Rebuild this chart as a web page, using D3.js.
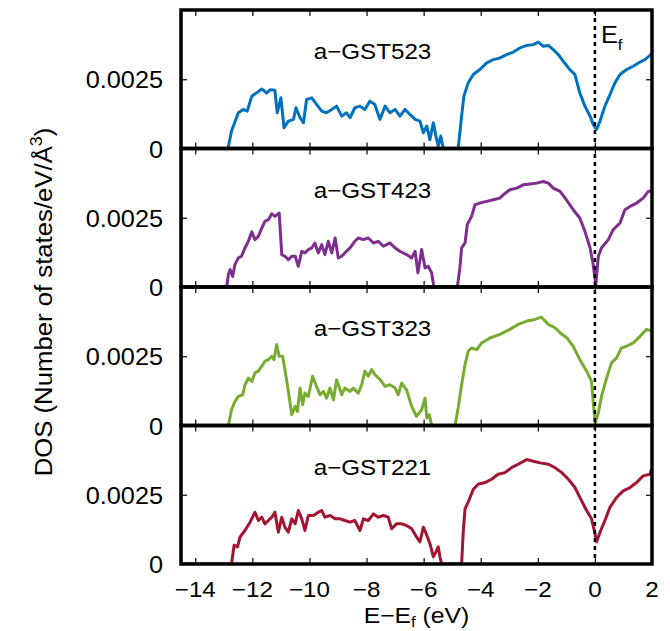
<!DOCTYPE html>
<html><head><meta charset="utf-8">
<script src="https://cdn.jsdelivr.net/npm/d3@7"></script>
<style>body{margin:0;background:#fff}svg{display:block}text{font-family:"Liberation Sans",Arial,sans-serif;fill:#000}</style>
</head><body><svg id="c" width="670" height="631"></svg>
<script>
// ---- data (DOS in units of 1e-3 states/eV/Å^3) ----
const panelNames = ["a\u2212GST523","a\u2212GST423","a\u2212GST323","a\u2212GST221"];
const panelColors = ["#0072bd","#7e2f8e","#77ac30","#a2142f"];
const xTicks = [-14,-12,-10,-8,-6,-4,-2,0,2];
const xTickLabels = ["\u221214","\u221212","\u221210","\u22128","\u22126","\u22124","\u22122","0","2"];
const yTicks = [0, 2.5];
const yTickLabels = ["0","0.0025"];

const dos523 = [[-14.5,0],[-12.85,0],[-12.73,0.63],[-12.49,1.29],[-12.32,1.41],[-12.18,1.35],[-12.02,1.89],[-11.85,2.01],[-11.67,2.15],[-11.5,2.0],[-11.38,2.12],[-11.21,2.1],[-11.13,1.29],[-11.0,1.83],[-10.89,0.75],[-10.74,0.99],[-10.56,1.05],[-10.47,1.47],[-10.33,1.11],[-10.21,0.93],[-10.1,1.77],[-9.92,1.83],[-9.75,1.59],[-9.57,1.35],[-9.4,1.29],[-9.22,1.41],[-9.05,1.53],[-8.87,1.17],[-8.7,1.29],[-8.58,1.11],[-8.41,1.47],[-8.23,1.53],[-8.06,1.41],[-7.88,1.71],[-7.71,1.59],[-7.53,1.05],[-7.35,1.53],[-7.18,1.29],[-7.0,1.41],[-6.83,1.17],[-6.65,1.41],[-6.48,1.23],[-6.3,1.05],[-6.13,0.99],[-6.01,0.57],[-5.89,0.81],[-5.78,0.32],[-5.66,0.93],[-5.57,0.45],[-5.49,0.08],[-5.4,0.45],[-5.31,0],[-4.79,0],[-4.67,1.17],[-4.59,1.89],[-4.44,2.37],[-4.26,2.67],[-4.03,2.85],[-3.79,3.09],[-3.56,3.21],[-3.33,3.27],[-3.09,3.39],[-2.86,3.48],[-2.63,3.63],[-2.39,3.72],[-2.16,3.75],[-1.98,3.84],[-1.81,3.69],[-1.63,3.72],[-1.46,3.57],[-1.28,3.39],[-1.11,3.15],[-0.88,2.85],[-0.7,2.67],[-0.53,2.01],[-0.35,1.53],[-0.17,1.17],[-0.06,0.87],[0.06,0.69],[0.18,0.99],[0.35,1.53],[0.53,1.95],[0.7,2.37],[0.88,2.67],[1.11,2.85],[1.34,2.97],[1.58,3.12],[1.75,3.21],[1.93,3.36],[2.0,3.43]];
const dos423 = [[-14.5,0],[-12.9,0],[-12.84,0.45],[-12.78,0.63],[-12.69,0.38],[-12.61,0.81],[-12.49,1.05],[-12.38,1.11],[-12.26,1.41],[-12.14,1.65],[-12.02,1.99],[-11.91,1.71],[-11.79,1.83],[-11.67,2.13],[-11.56,2.37],[-11.44,2.43],[-11.32,2.64],[-11.21,2.55],[-11.06,2.67],[-10.97,1.17],[-10.86,1.11],[-10.74,0.99],[-10.62,1.11],[-10.5,1.11],[-10.39,0.75],[-10.27,1.29],[-10.16,1.23],[-10.04,1.35],[-9.92,1.41],[-9.81,1.59],[-9.69,1.23],[-9.57,1.53],[-9.46,1.17],[-9.34,1.65],[-9.22,1.23],[-9.1,1.77],[-8.99,1.05],[-8.87,1.11],[-8.76,1.23],[-8.58,1.41],[-8.41,1.65],[-8.29,1.77],[-8.11,1.71],[-7.94,1.77],[-7.76,1.59],[-7.59,1.65],[-7.41,1.47],[-7.18,1.59],[-7.0,1.41],[-6.83,1.29],[-6.6,1.17],[-6.42,1.05],[-6.3,1.29],[-6.2,0.51],[-6.07,1.35],[-5.95,0.69],[-5.84,0.75],[-5.72,0.51],[-5.64,0],[-4.82,0],[-4.73,0.69],[-4.67,1.41],[-4.55,1.59],[-4.47,2.25],[-4.32,2.55],[-4.2,2.97],[-4.03,3.03],[-3.79,3.09],[-3.56,3.15],[-3.33,3.21],[-3.21,3.33],[-2.98,3.51],[-2.74,3.57],[-2.51,3.69],[-2.28,3.72],[-2.04,3.75],[-1.81,3.81],[-1.63,3.75],[-1.46,3.57],[-1.22,3.45],[-1.0,3.15],[-0.76,2.79],[-0.53,2.49],[-0.35,2.01],[-0.17,1.41],[-0.06,0.81],[0.03,0.08],[0.12,1.11],[0.23,1.41],[0.47,1.71],[0.64,2.07],[0.88,2.31],[1.05,2.79],[1.23,2.91],[1.46,3.03],[1.69,3.21],[1.87,3.45],[2.0,3.48]];
const dos323 = [[-14.5,0],[-12.84,0],[-12.73,0.57],[-12.61,0.87],[-12.49,1.05],[-12.34,1.11],[-12.26,1.47],[-12.14,1.71],[-12.02,1.59],[-11.91,1.9],[-11.79,1.96],[-11.67,2.14],[-11.56,2.32],[-11.44,2.38],[-11.32,2.5],[-11.24,2.38],[-11.15,2.92],[-11.06,2.5],[-10.94,2.5],[-10.86,2.02],[-10.74,1.23],[-10.62,0.39],[-10.5,0.69],[-10.42,0.51],[-10.33,1.35],[-10.24,0.75],[-10.16,1.17],[-10.04,1.05],[-9.89,1.78],[-9.75,1.41],[-9.63,1.11],[-9.51,1.23],[-9.4,0.99],[-9.28,1.35],[-9.16,0.93],[-9.05,1.65],[-8.87,1.11],[-8.76,1.35],[-8.58,1.23],[-8.46,1.35],[-8.29,1.17],[-8.17,1.47],[-8.06,1.96],[-7.94,1.78],[-7.82,2.02],[-7.71,1.84],[-7.53,1.66],[-7.35,1.41],[-7.18,1.47],[-7.0,1.35],[-6.89,1.11],[-6.77,1.53],[-6.6,1.29],[-6.42,0.69],[-6.25,0.33],[-6.07,0.57],[-5.95,0.99],[-5.89,0.27],[-5.8,0.39],[-5.72,0],[-4.9,0],[-4.79,0.63],[-4.67,1.47],[-4.55,2.2],[-4.44,2.68],[-4.32,2.8],[-4.14,2.74],[-3.97,2.98],[-3.68,3.16],[-3.33,3.29],[-2.98,3.47],[-2.69,3.65],[-2.39,3.77],[-2.1,3.83],[-1.87,3.91],[-1.63,3.65],[-1.4,3.53],[-1.22,3.35],[-0.99,3.17],[-0.76,2.86],[-0.53,2.38],[-0.29,1.96],[-0.12,1.59],[-0.03,0.51],[0.01,0.08],[0.12,0.45],[0.23,1.05],[0.41,1.71],[0.58,2.26],[0.76,2.44],[0.93,2.8],[1.11,2.86],[1.34,2.98],[1.58,3.22],[1.81,3.47],[2.0,3.41]];
const dos221 = [[-14.5,0],[-12.73,0],[-12.64,0.68],[-12.52,0.62],[-12.43,0.98],[-12.26,1.21],[-12.08,1.51],[-11.91,1.87],[-11.79,1.57],[-11.67,1.69],[-11.56,1.45],[-11.44,1.57],[-11.32,1.69],[-11.21,1.87],[-11.09,1.15],[-10.97,1.69],[-10.86,1.33],[-10.74,1.15],[-10.62,1.63],[-10.5,1.45],[-10.39,1.93],[-10.27,1.63],[-10.16,1.21],[-10.04,1.75],[-9.86,1.75],[-9.69,1.87],[-9.57,1.93],[-9.46,1.69],[-9.28,1.75],[-9.1,1.63],[-8.93,1.63],[-8.76,1.57],[-8.58,1.51],[-8.41,1.57],[-8.23,1.21],[-8.11,1.63],[-7.94,1.57],[-7.76,1.81],[-7.59,1.69],[-7.41,1.75],[-7.24,1.69],[-7.12,1.27],[-6.95,1.45],[-6.77,1.45],[-6.6,1.39],[-6.42,1.27],[-6.25,0.98],[-6.13,0.8],[-6.01,1.33],[-5.89,1.04],[-5.78,0.74],[-5.66,0.26],[-5.57,0.44],[-5.49,0.62],[-5.43,0.26],[-5.37,0],[-4.67,0],[-4.61,1.21],[-4.55,1.99],[-4.44,2.23],[-4.26,2.7],[-4.09,2.88],[-3.85,2.94],[-3.62,3.06],[-3.39,3.24],[-3.15,3.3],[-2.92,3.48],[-2.69,3.6],[-2.39,3.77],[-2.16,3.71],[-1.92,3.65],[-1.63,3.6],[-1.4,3.48],[-1.16,3.3],[-0.93,3.06],[-0.7,2.76],[-0.47,2.29],[-0.29,1.93],[-0.12,1.63],[-0.02,1.21],[0.06,0.8],[0.18,1.15],[0.35,1.57],[0.53,2.05],[0.76,2.4],[0.99,2.64],[1.23,2.76],[1.46,2.94],[1.69,3.18],[1.93,3.24],[2.0,3.48]];
const panelData = [dos523, dos423, dos323, dos221];

// ---- layout ----
const L = 181, R = 652, T = 10, B = 564;
const ph = (B - T) / 4;
const SX = 1.1; // horizontal glyph stretch of the original's font
const svg = d3.select("#c");
const x = d3.scaleLinear().domain([-14.5, 2]).range([L, R]);

function label(px, py, anchor, size, rot) {
  return svg.append("text")
    .attr("transform", `translate(${px},${py})` + (rot ? ` rotate(${rot})` : "") + ` scale(${SX},1)`)
    .attr("text-anchor", anchor).attr("font-size", size);
}

panelData.forEach((data, i) => {
  const top = T + i * ph, bot = top + ph;
  const y = d3.scaleLinear().domain([0, 5]).range([bot, top]);
  const g = svg.append("g");
  g.append("clipPath").attr("id", "cp" + i).append("rect")
    .attr("x", L).attr("y", top).attr("width", R - L).attr("height", ph);
  g.append("path").datum(data)
    .attr("clip-path", "url(#cp" + i + ")")
    .attr("fill", "none").attr("stroke", panelColors[i]).attr("stroke-width", 3)
    .attr("stroke-linejoin", "round")
    .attr("d", d3.line().x(d => x(d[0])).y(d => y(d[1])));
  const xb = d3.axisBottom(x).tickValues(xTicks).tickSize(-6).tickFormat("");
  const xt = d3.axisTop(x).tickValues(xTicks).tickSize(-6).tickFormat("");
  g.append("g").attr("transform", `translate(0,${bot})`).call(xb).call(s => s.select(".domain").remove());
  g.append("g").attr("transform", `translate(0,${top})`).call(xt).call(s => s.select(".domain").remove());
  const yl = d3.axisLeft(y).tickValues([2.5]).tickSize(-6).tickFormat("");
  const yr = d3.axisRight(y).tickValues([2.5]).tickSize(-6).tickFormat("");
  g.append("g").attr("transform", `translate(${L},0)`).call(yl).call(s => s.select(".domain").remove());
  g.append("g").attr("transform", `translate(${R},0)`).call(yr).call(s => s.select(".domain").remove());
  g.selectAll(".tick line").attr("stroke", "#000").attr("stroke-width", 1.2);
  yTicks.forEach((t, k) => {
    label(163, y(t) + 9, "end", 23).text(yTickLabels[k]);
  });
  label(372.5, top + 49, "middle", 22).text(panelNames[i]);
});

// dashed Fermi line
svg.append("line").attr("x1", x(0)).attr("x2", x(0)).attr("y1", T).attr("y2", B)
  .attr("stroke", "#000").attr("stroke-width", 2.5).attr("stroke-dasharray", "4,4");

// frames
for (let i = 0; i < 4; i++) {
  svg.append("rect").attr("x", L).attr("y", T + i * ph).attr("width", R - L).attr("height", ph)
    .attr("fill", "none").attr("stroke", "#000").attr("stroke-width", 3.5);
}

// x tick labels
xTicks.forEach((t, k) => {
  label(x(t), 597, "middle", 22).text(xTickLabels[k]);
});

// E_f label
const ef = label(601, 43, "start", 23);
ef.append("tspan").text("E");
ef.append("tspan").attr("font-size", 15).attr("dy", 7).text("f");

// x title
const xtit = label((L + R) / 2, 623, "middle", 22.5);
xtit.append("tspan").text("E\u2212E");
xtit.append("tspan").attr("font-size", 15).attr("dy", 4).text("f");
xtit.append("tspan").attr("dy", -4).text(" (eV)");

// y title
const ytit = svg.append("text").attr("transform", `translate(52,302) rotate(-90) scale(1.05,1)`)
  .attr("text-anchor", "middle").attr("font-size", 24.5);
ytit.append("tspan").text("DOS (Number of states/eV/\u00C5");
ytit.append("tspan").attr("font-size", 17).attr("dy", -10).text("3");
ytit.append("tspan").attr("dy", 10).text(")");
</script></body></html>
